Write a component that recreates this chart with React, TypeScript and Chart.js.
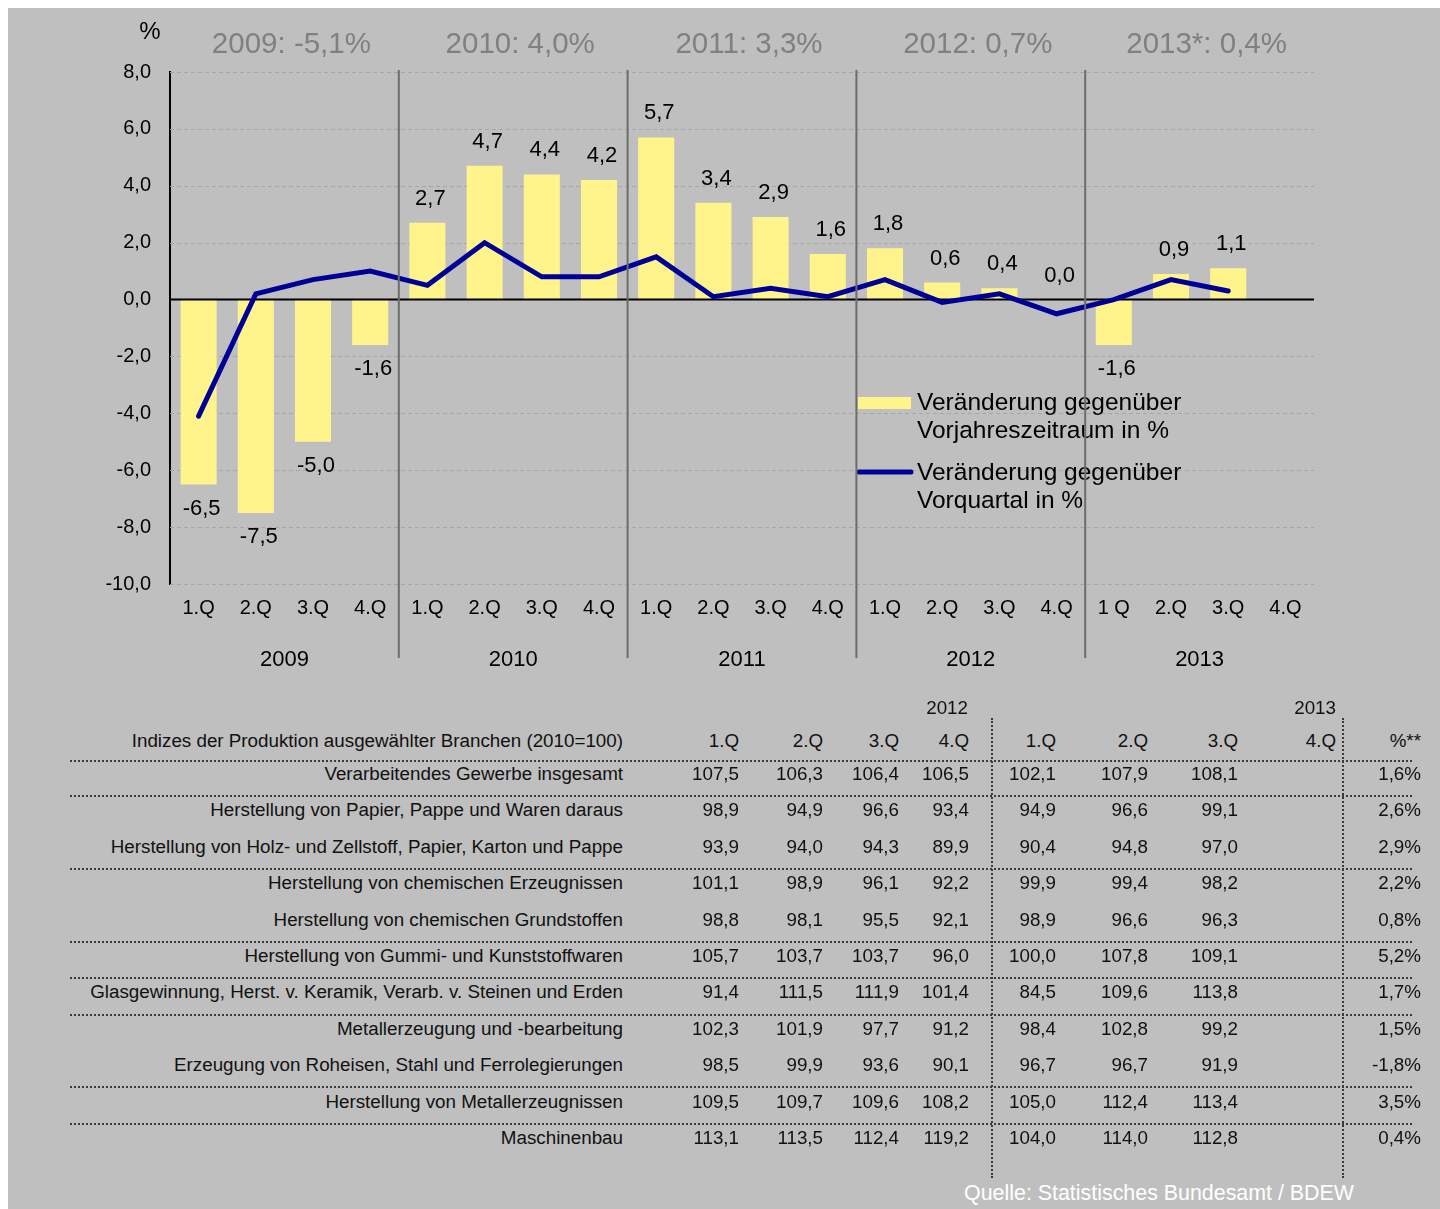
import React, { useEffect, useRef } from 'react';
import { Chart, registerables } from 'chart.js';
Chart.register(...registerables);

// ---------- chart data ----------
const quarterLabels = [
  '1.Q', '2.Q', '3.Q', '4.Q',
  '1.Q', '2.Q', '3.Q', '4.Q',
  '1.Q', '2.Q', '3.Q', '4.Q',
  '1.Q', '2.Q', '3.Q', '4.Q',
  '1 Q', '2.Q', '3.Q', '4.Q',
];
const yearLabels = ['2009', '2010', '2011', '2012', '2013'];
const yearTotals = ['2009: -5,1%', '2010: 4,0%', '2011: 3,3%', '2012: 0,7%', '2013*: 0,4%'];
const yoyValues: (number | null)[] = [
  -6.5, -7.5, -5.0, -1.6,
  2.7, 4.7, 4.4, 4.2,
  5.7, 3.4, 2.9, 1.6,
  1.8, 0.6, 0.4, 0.0,
  -1.6, 0.9, 1.1, null,
];
const qoqValues: (number | null)[] = [
  -4.1, 0.2, 0.7, 1.0,
  0.5, 2.0, 0.8, 0.8,
  1.5, 0.1, 0.4, 0.1,
  0.7, -0.1, 0.2, -0.5,
  0.0, 0.7, 0.3, null,
];
const yMin = -10;
const yMax = 8;
const yStep = 2;
const legendYoy = ['Veränderung gegenüber', 'Vorjahreszeitraum in %'];
const legendQoq = ['Veränderung gegenüber', 'Vorquartal in %'];

// ---------- table data ----------
const tableTitle = 'Indizes der Produktion ausgewählter Branchen (2010=100)';
const tableYears = ['2012', '2013'];
const tableQuarters = ['1.Q', '2.Q', '3.Q', '4.Q', '1.Q', '2.Q', '3.Q', '4.Q'];
const tablePctHeader = '%**';
const industries = [
  'Verarbeitendes Gewerbe insgesamt',
  'Herstellung von Papier, Pappe und Waren daraus',
  'Herstellung von Holz- und Zellstoff, Papier, Karton und Pappe',
  'Herstellung von chemischen Erzeugnissen',
  'Herstellung von chemischen Grundstoffen',
  'Herstellung von Gummi- und Kunststoffwaren',
  'Glasgewinnung, Herst. v. Keramik, Verarb. v. Steinen und Erden',
  'Metallerzeugung und -bearbeitung',
  'Erzeugung von Roheisen, Stahl und Ferrolegierungen',
  'Herstellung von Metallerzeugnissen',
  'Maschinenbau',
];
const q1_2012 = [107.5, 98.9, 93.9, 101.1, 98.8, 105.7, 91.4, 102.3, 98.5, 109.5, 113.1];
const q2_2012 = [106.3, 94.9, 94.0, 98.9, 98.1, 103.7, 111.5, 101.9, 99.9, 109.7, 113.5];
const q3_2012 = [106.4, 96.6, 94.3, 96.1, 95.5, 103.7, 111.9, 97.7, 93.6, 109.6, 112.4];
const q4_2012 = [106.5, 93.4, 89.9, 92.2, 92.1, 96.0, 101.4, 91.2, 90.1, 108.2, 119.2];
const q1_2013 = [102.1, 94.9, 90.4, 99.9, 98.9, 100.0, 84.5, 98.4, 96.7, 105.0, 104.0];
const q2_2013 = [107.9, 96.6, 94.8, 99.4, 96.6, 107.8, 109.6, 102.8, 96.7, 112.4, 114.0];
const q3_2013 = [108.1, 99.1, 97.0, 98.2, 96.3, 109.1, 113.8, 99.2, 91.9, 113.4, 112.8];
const q4_2013: (number | null)[] = [null, null, null, null, null, null, null, null, null, null, null];
const pctChange = [1.6, 2.6, 2.9, 2.2, 0.8, 5.2, 1.7, 1.5, -1.8, 3.5, 0.4];
const groupEnds = [0, 2, 4, 5, 6, 8, 9]; // rows after which a dotted rule follows
const sourceText = 'Quelle: Statistisches Bundesamt / BDEW';

// ---------- styles ----------
const FONT = '"Liberation Sans", Arial, Helvetica, sans-serif';
const BG = '#bfbfbf';
const BAR = '#fff48c';
const LINE = '#000096';
const SEP = '#6c6c6c';
const W = 1432;
const CH = 690;
const TFS = 18.8;

const fmt = (v: number) => v.toFixed(1).replace('.', ',');

const overlayPlugin = {
  id: 'overlay',
  beforeDatasetsDraw(chart: any) {
    const { ctx, chartArea, scales } = chart;
    const y = scales.y;
    ctx.save();
    ctx.strokeStyle = '#a6a6a6';
    ctx.lineWidth = 1;
    ctx.setLineDash([4, 3]);
    for (let v = yMin; v <= yMax; v += yStep) {
      if (v === 0) continue;
      const py = Math.round(y.getPixelForValue(v)) + 0.5;
      ctx.beginPath();
      ctx.moveTo(chartArea.left, py);
      ctx.lineTo(chartArea.right, py);
      ctx.stroke();
    }
    ctx.restore();
  },
  afterDatasetDraw(chart: any, args: any) {
    if (args.index !== 1) return;
    const { ctx, chartArea, scales } = chart;
    const py = scales.y.getPixelForValue(0);
    ctx.save();
    ctx.strokeStyle = '#000';
    ctx.lineWidth = 2;
    ctx.beginPath();
    ctx.moveTo(chartArea.left, py);
    ctx.lineTo(chartArea.right, py);
    ctx.stroke();
    ctx.restore();
  },
  afterDraw(chart: any) {
    const { ctx, scales } = chart;
    const x = scales.x;
    ctx.save();
    // bar value labels
    const meta = chart.getDatasetMeta(1);
    ctx.fillStyle = '#000';
    ctx.font = `22px ${FONT}`;
    ctx.textAlign = 'center';
    ctx.textBaseline = 'middle';
    meta.data.forEach((el: any, i: number) => {
      const v = yoyValues[i];
      if (v === null || v === undefined) return;
      const ly = v >= 0 ? el.y - 24 : el.y + 24;
      ctx.fillText(fmt(v), el.x + 3, ly);
    });
    // year labels under the axis
    ctx.font = `22px ${FONT}`;
    yearLabels.forEach((lab, i) => {
      const cx = x.getPixelForValue(i * 4 + 1.5);
      ctx.fillText(lab, cx, 652);
    });
    // yearly totals at the top
    ctx.fillStyle = '#808080';
    ctx.font = `29.5px ${FONT}`;
    yearTotals.forEach((lab, i) => {
      const cx = x.getPixelForValue(i * 4 + 1.5);
      ctx.fillText(lab, cx + 7, 37);
    });
    // unit
    ctx.fillStyle = '#000';
    ctx.font = `24px ${FONT}`;
    ctx.fillText('%', 142, 24);
    // legend
    ctx.textAlign = 'left';
    ctx.fillStyle = BAR;
    ctx.fillRect(850, 389, 53, 12);
    ctx.strokeStyle = LINE;
    ctx.lineWidth = 5;
    ctx.lineCap = 'round';
    ctx.beginPath();
    ctx.moveTo(851, 464);
    ctx.lineTo(903, 464);
    ctx.stroke();
    ctx.fillStyle = '#000';
    ctx.font = `24.5px ${FONT}`;
    ctx.fillText(legendYoy[0], 909, 395);
    ctx.fillText(legendYoy[1], 909, 423);
    ctx.fillText(legendQoq[0], 909, 465);
    ctx.fillText(legendQoq[1], 909, 493);
    // year separators
    ctx.strokeStyle = SEP;
    ctx.lineWidth = 2;
    ctx.lineCap = 'butt';
    for (let i = 1; i < yearLabels.length; i++) {
      const sx = (x.getPixelForValue(i * 4 - 1) + x.getPixelForValue(i * 4)) / 2;
      ctx.beginPath();
      ctx.moveTo(sx, 62);
      ctx.lineTo(sx, 650);
      ctx.stroke();
    }
    ctx.restore();
  },
};

function ChartBlock() {
  const ref = useRef<HTMLCanvasElement | null>(null);
  useEffect(() => {
    if (!ref.current) return;
    const chart = new Chart(ref.current, {
      type: 'bar',
      data: {
        labels: quarterLabels,
        datasets: [
          {
            type: 'line',
            label: legendQoq.join(' '),
            data: qoqValues,
            borderColor: LINE,
            backgroundColor: LINE,
            borderWidth: 5,
            pointRadius: 0,
            tension: 0,
            borderCapStyle: 'round',
            order: 0,
          } as any,
          {
            type: 'bar',
            label: legendYoy.join(' '),
            data: yoyValues,
            backgroundColor: BAR,
            borderWidth: 0,
            barPercentage: 0.9,
            categoryPercentage: 0.7,
            order: 1,
          } as any,
        ],
      },
      options: {
        responsive: false,
        animation: false,
        devicePixelRatio: 1,
        layout: { padding: { left: 0, right: 126, top: 64, bottom: 0 } },
        plugins: {
          legend: { display: false },
          tooltip: { enabled: false },
          title: { display: false },
        },
        scales: {
          x: {
            offset: true,
            grid: { display: false, drawTicks: false },
            border: { display: false },
            ticks: {
              color: '#000',
              font: { family: FONT, size: 20 },
              padding: 12,
              maxRotation: 0,
              autoSkip: false,
            },
            afterFit: (s: any) => { s.height = 114; },
          },
          y: {
            min: yMin,
            max: yMax,
            grid: { display: false, drawTicks: false },
            border: { display: true, color: '#000', width: 2 },
            ticks: {
              stepSize: yStep,
              color: '#000',
              font: { family: FONT, size: 20 },
              padding: 19,
              callback: (v: any) => fmt(Number(v)),
            },
            afterFit: (s: any) => { s.width = 162; },
          },
        },
      },
      plugins: [overlayPlugin],
    });
    return () => chart.destroy();
  }, []);
  return (
    <canvas
      ref={ref}
      width={W}
      height={CH}
      style={{ position: 'absolute', left: 0, top: 0, width: W, height: CH, display: 'block' }}
    />
  );
}

// page coordinates minus container offset (8px)
const OFF = 8;
const labelRight = 623;
const colRights = [739, 823, 899, 969, 1056, 1148, 1238, 1336];
const pctRight = 1421;
const rowY0 = 774;
const rowStep = 36.4;

function Txt({ text, right, y, size = TFS, color = '#111' }: { text: string; right: number; y: number; size?: number; color?: string }) {
  return (
    <div
      style={{
        position: 'absolute',
        left: 0,
        width: right - OFF,
        top: y - OFF - 11,
        lineHeight: '22px',
        height: 22,
        textAlign: 'right',
        whiteSpace: 'nowrap',
        fontSize: size,
        fontFamily: FONT,
        color,
      }}
    >
      {text}
    </div>
  );
}

function TableBlock() {
  const cols = [q1_2012, q2_2012, q3_2012, q4_2012, q1_2013, q2_2013, q3_2013, q4_2013];
  const rowYs = industries.map((_, i) => rowY0 + i * rowStep);
  const hLines = [757 + 4, ...groupEnds.map((g) => (rowYs[g] + rowYs[g + 1]) / 2 + 4)];
  return (
    <>
      <Txt text={tableYears[0]} right={968} y={708} />
      <Txt text={tableYears[1]} right={1336} y={708} />
      <Txt text={tableTitle} right={labelRight} y={741} />
      {tableQuarters.map((q, i) => (
        <Txt key={'q' + i} text={q} right={colRights[i]} y={741} />
      ))}
      <Txt text={tablePctHeader} right={pctRight} y={741} />
      {hLines.map((ly, i) => (
        <div
          key={'h' + i}
          style={{
            position: 'absolute',
            left: 70 - OFF,
            width: 1412 - 70,
            top: ly - OFF - 1,
            height: 0,
            borderTop: '2px dotted #3a3a3a',
          }}
        />
      ))}
      {[992, 1343].map((vx, i) => (
        <div
          key={'v' + i}
          style={{
            position: 'absolute',
            left: vx - OFF - 1,
            top: 718 - OFF,
            height: 460,
            width: 0,
            borderLeft: '2px dotted #3a3a3a',
          }}
        />
      ))}
      {industries.map((name, r) => (
        <React.Fragment key={'r' + r}>
          <Txt text={name} right={labelRight} y={rowYs[r]} />
          {cols.map((col, c) =>
            col[r] === null || col[r] === undefined ? null : (
              <Txt key={'c' + c} text={fmt(col[r] as number)} right={colRights[c]} y={rowYs[r]} />
            )
          )}
          <Txt text={fmt(pctChange[r]) + '%'} right={pctRight} y={rowYs[r]} />
        </React.Fragment>
      ))}
      <Txt text={sourceText} right={1354} y={1193} size={21.4} color="#ffffff" />
    </>
  );
}

export default function App() {
  return (
    <div
      style={{
        position: 'absolute',
        left: 8,
        top: 8,
        width: W,
        height: 1201,
        background: BG,
        overflow: 'hidden',
      }}
    >
      <ChartBlock />
      <TableBlock />
    </div>
  );
}
